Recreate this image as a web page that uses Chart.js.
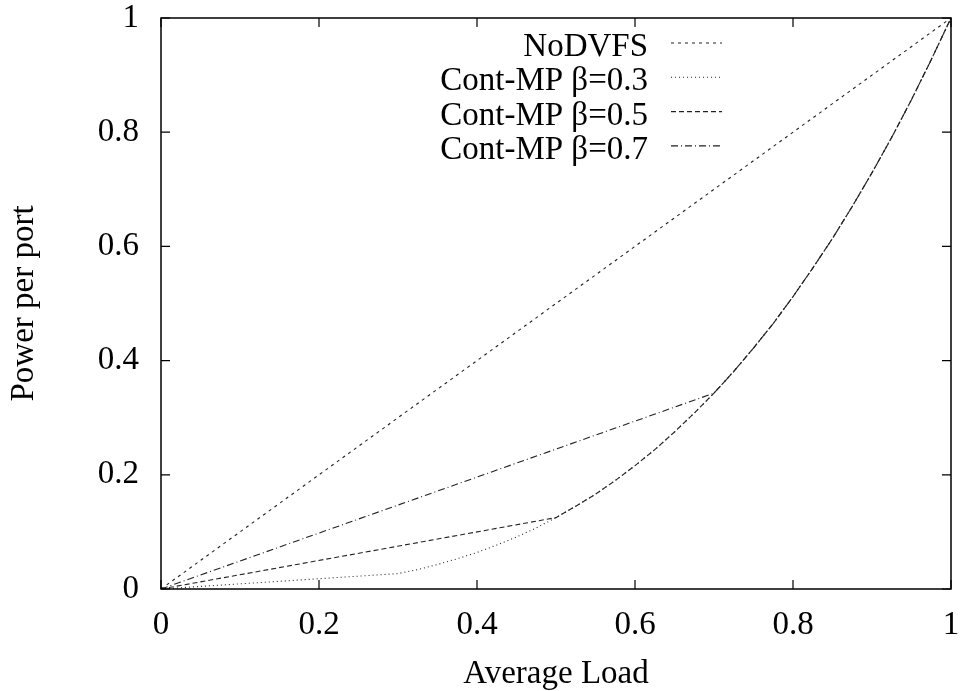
<html><head><meta charset="utf-8">
<script src="https://cdn.jsdelivr.net/npm/chart.js@4.4.0/dist/chart.umd.min.js"></script>
<style>
 body { margin:0; background:#fff; }
 #wrap { position:relative; width:962px; height:691px; }
</style>
</head>
<body>
<div id="wrap"><canvas id="myChart" width="962" height="691"></canvas></div>
<script>
// values
var loadsNoDvfs = [0, 1];
var powerNoDvfs = [0, 1];
var loadsB03 = [0, 0.3, 0.325, 0.35, 0.375, 0.4, 0.425, 0.45, 0.475, 0.5, 0.525, 0.55, 0.575, 0.6, 0.625, 0.65, 0.675, 0.7, 0.725, 0.75, 0.775, 0.8, 0.825, 0.85, 0.875, 0.9, 0.925, 0.95, 0.975, 1];
var powerB03 = [0, 0.027, 0.034, 0.043, 0.053, 0.064, 0.077, 0.091, 0.107, 0.125, 0.145, 0.166, 0.190, 0.216, 0.244, 0.275, 0.308, 0.343, 0.381, 0.422, 0.465, 0.512, 0.562, 0.614, 0.670, 0.729, 0.791, 0.857, 0.927, 1];
var loadsB05 = [0, 0.5, 0.525, 0.55, 0.575, 0.6, 0.625, 0.65, 0.675, 0.7, 0.725, 0.75, 0.775, 0.8, 0.825, 0.85, 0.875, 0.9, 0.925, 0.95, 0.975, 1];
var powerB05 = [0, 0.125, 0.145, 0.166, 0.190, 0.216, 0.244, 0.275, 0.308, 0.343, 0.381, 0.422, 0.465, 0.512, 0.562, 0.614, 0.670, 0.729, 0.791, 0.857, 0.927, 1];
var loadsB07 = [0, 0.7, 0.725, 0.75, 0.775, 0.8, 0.825, 0.85, 0.875, 0.9, 0.925, 0.95, 0.975, 1];
var powerB07 = [0, 0.343, 0.381, 0.422, 0.465, 0.512, 0.562, 0.614, 0.670, 0.729, 0.791, 0.857, 0.927, 1];
var seriesNames = ['NoDVFS', 'Cont-MP \u03b2=0.3', 'Cont-MP \u03b2=0.5', 'Cont-MP \u03b2=0.7'];
var xTicks = [0, 0.2, 0.4, 0.6, 0.8, 1];
var yTicks = [0, 0.2, 0.4, 0.6, 0.8, 1];

var dashes = [[3, 4], [1, 3], [5, 3], [7, 3, 1, 3]];
var serif = "'Liberation Serif', 'DejaVu Serif', serif";

function pts(xs, ys) {
  return xs.map(function (x, i) { return {x: x, y: ys[i]}; });
}

var allSeries = [[loadsNoDvfs, powerNoDvfs], [loadsB03, powerB03], [loadsB05, powerB05], [loadsB07, powerB07]];
var datasets = allSeries.map(function (s, i) {
  return {
    label: seriesNames[i],
    data: pts(s[0], s[1]),
    borderColor: '#222',
    borderWidth: 1.1,
    borderDash: dashes[i],
    pointRadius: 0,
    fill: false,
    tension: 0
  };
});

// gnuplot style frame, inner mirrored ticks, and key
var gnuFrame = {
  id: 'gnuFrame',
  afterDatasetsDraw: function (chart) {
    var c = chart.ctx, a = chart.chartArea;
    var xs = chart.scales.x, ys = chart.scales.y, tl = 9;
    c.save();
    c.strokeStyle = '#000';
    c.lineWidth = 1.5;
    c.setLineDash([]);
    c.strokeRect(a.left, a.top, a.right - a.left, a.bottom - a.top);
    c.lineWidth = 1.2;
    c.beginPath();
    xTicks.forEach(function (v) {
      var px = xs.getPixelForValue(v);
      c.moveTo(px, a.bottom); c.lineTo(px, a.bottom - tl);
      c.moveTo(px, a.top); c.lineTo(px, a.top + tl);
    });
    yTicks.forEach(function (v) {
      var py = ys.getPixelForValue(v);
      c.moveTo(a.left, py); c.lineTo(a.left + tl, py);
      c.moveTo(a.right, py); c.lineTo(a.right - tl, py);
    });
    c.stroke();

    // key
    c.font = '33px ' + serif;
    c.fillStyle = '#000';
    c.textAlign = 'right';
    c.textBaseline = 'alphabetic';
    chart.data.datasets.forEach(function (ds, i) {
      var y = 43 + i * 34.3;
      c.fillText(ds.label, 648, y + 13);
      c.strokeStyle = ds.borderColor;
      c.lineWidth = ds.borderWidth;
      c.setLineDash(ds.borderDash);
      c.beginPath();
      c.moveTo(671, y); c.lineTo(722, y);
      c.stroke();
    });
    c.restore();
  }
};

var ctx = document.getElementById('myChart');
var myChart = new Chart(ctx, {
  type: 'line',
  data: { datasets: datasets },
  options: {
    responsive: false,
    animation: false,
    layout: { padding: { top: 18, right: 11, left: 0, bottom: 0 } },
    plugins: { legend: { display: false }, tooltip: { enabled: false } },
    scales: {
      x: {
        type: 'linear', min: 0, max: 1,
        afterFit: function (s) { s.height = 102; s.paddingLeft = 0; s.paddingRight = 0; },
        afterBuildTicks: function (s) { s.ticks = xTicks.map(function (v) { return {value: v}; }); },
        grid: { display: false, drawTicks: false },
        border: { display: false },
        ticks: { color: '#000', font: { family: serif, size: 33 }, padding: 17, maxRotation: 0,
                 callback: function (v) { return String(v); } },
        title: { display: true, text: 'Average Load', color: '#000',
                 font: { family: serif, size: 33, lineHeight: 1 }, padding: 0 }
      },
      y: {
        type: 'linear', min: 0, max: 1,
        afterFit: function (s) { s.width = 161; s.paddingTop = 0; s.paddingBottom = 0; },
        afterBuildTicks: function (s) { s.ticks = yTicks.map(function (v) { return {value: v}; }); },
        grid: { display: false, drawTicks: false },
        border: { display: false },
        ticks: { color: '#000', font: { family: serif, size: 33 }, padding: 22,
                 callback: function (v) { return String(v); } },
        title: { display: true, text: 'Power per port', color: '#000',
                 font: { family: serif, size: 33, lineHeight: 1 }, padding: { top: 8, bottom: 0 } }
      }
    }
  },
  plugins: [gnuFrame]
});
</script>
</body></html>
